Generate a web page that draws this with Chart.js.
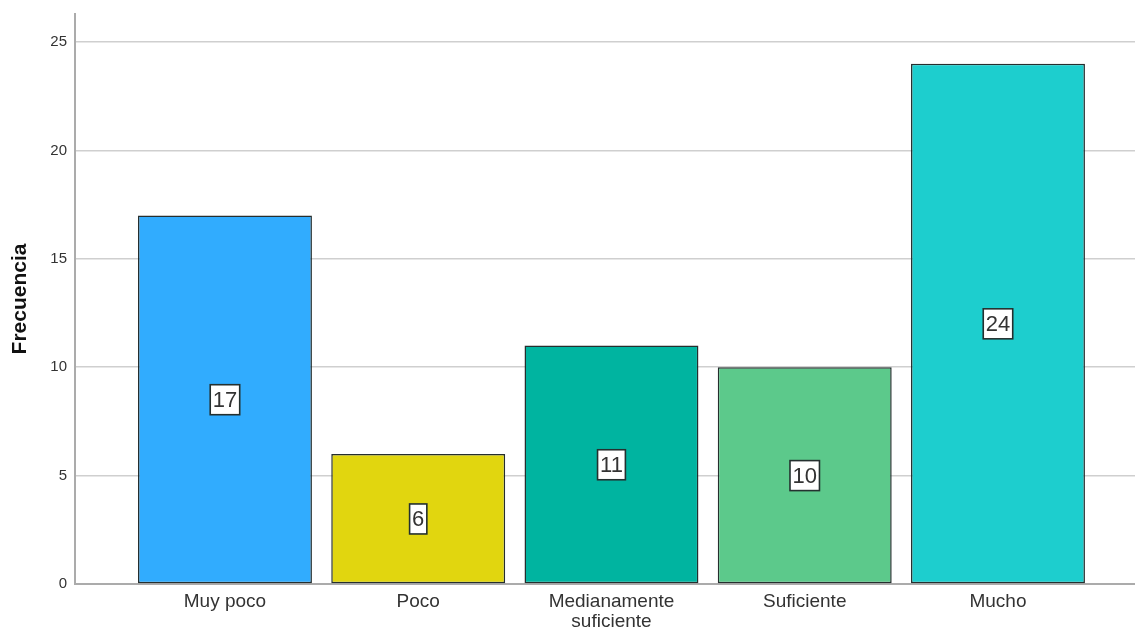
<!DOCTYPE html>
<html>
<head>
<meta charset="utf-8">
<script src="https://cdn.jsdelivr.net/npm/chart.js@4"></script>
<style>
  html, body { margin: 0; padding: 0; background: #fff; }
  #chart { display: block; }
</style>
</head>
<body>
<canvas id="chart" width="1135" height="630"></canvas>
<script>
// Frequency of each response category
const categories = ['Muy poco', 'Poco', 'Medianamente suficiente', 'Suficiente', 'Mucho'];
const tickLabels = [['Muy poco'], ['Poco'], ['Medianamente', 'suficiente'], ['Suficiente'], ['Mucho']];
const frequencies = [17, 6, 11, 10, 24];
const barColors = ['#31acfe', '#e1d60f', '#00b4a0', '#5cc98b', '#1dcece'];
const yTicks = [0, 5, 10, 15, 20, 25];

const FONT = 'Arial, "Liberation Sans", sans-serif';

// Value boxes drawn in the middle of each bar
const valueBoxes = {
  id: 'valueBoxes',
  afterDatasetsDraw(chart) {
    const ctx = chart.ctx;
    const yScale = chart.scales.y;
    const meta = chart.getDatasetMeta(0);
    ctx.save();
    ctx.font = '22px ' + FONT;
    ctx.textAlign = 'center';
    ctx.textBaseline = 'middle';
    meta.data.forEach((bar, i) => {
      const v = frequencies[i];
      const text = String(v);
      const cx = bar.x;
      const cy = yScale.getPixelForValue(v / 2);
      const w = ctx.measureText(text).width + 5;
      const h = 30;
      ctx.fillStyle = '#ffffff';
      ctx.fillRect(cx - w / 2, cy - h / 2, w, h);
      ctx.lineWidth = 1.6;
      ctx.strokeStyle = '#24302f';
      ctx.strokeRect(cx - w / 2, cy - h / 2, w, h);
      ctx.fillStyle = '#333333';
      ctx.fillText(text, cx, cy + 1);
    });
    ctx.restore();
  }
};

new Chart(document.getElementById('chart'), {
  type: 'bar',
  data: {
    datasets: [{
      label: 'Frecuencia',
      data: frequencies.map((v, i) => ({ x: i, y: v })),
      backgroundColor: barColors,
      borderColor: 'rgba(25,35,35,0.95)',
      borderWidth: 1.5,
      borderSkipped: false,
      barPercentage: 0.9,
      categoryPercentage: 1.0
    }]
  },
  options: {
    responsive: false,
    animation: false,
    layout: { padding: { top: 14, right: 0, left: 0, bottom: 0 } },
    plugins: {
      legend: { display: false },
      tooltip: { enabled: false }
    },
    scales: {
      x: {
        type: 'linear',
        offset: false,
        min: -0.776,
        max: 4.709,
        afterBuildTicks(scale) {
          scale.ticks = categories.map((_, i) => ({ value: i }));
        },
        afterFit(scale) { scale.height = 46; },
        grid: { display: false, drawTicks: false, offset: false },
        border: { display: true, color: '#ababab', width: 2 },
        ticks: {
          padding: 8,
          autoSkip: false,
          maxRotation: 0,
          color: '#333333',
          font: { family: FONT, size: 19, lineHeight: 1.05 },
          callback: (value) => tickLabels[value] || ''
        }
      },
      y: {
        min: 0,
        max: 26.29,
        afterBuildTicks(scale) {
          scale.ticks = yTicks.map(v => ({ value: v }));
        },
        afterFit(scale) {
          scale.width = 75;
          scale.paddingTop = 0;
          scale.paddingBottom = 0;
        },
        grid: { color: '#cfcfcf', lineWidth: 1.5, drawTicks: false },
        border: { display: true, color: '#ababab', width: 2 },
        ticks: {
          padding: 8,
          color: '#333333',
          font: { family: FONT, size: 15 }
        },
        title: {
          display: true,
          text: 'Frecuencia',
          color: '#111111',
          padding: { top: 8, bottom: 2 },
          font: { family: FONT, size: 21, weight: 'bold' }
        }
      }
    }
  },
  plugins: [valueBoxes]
});
</script>
</body>
</html>
